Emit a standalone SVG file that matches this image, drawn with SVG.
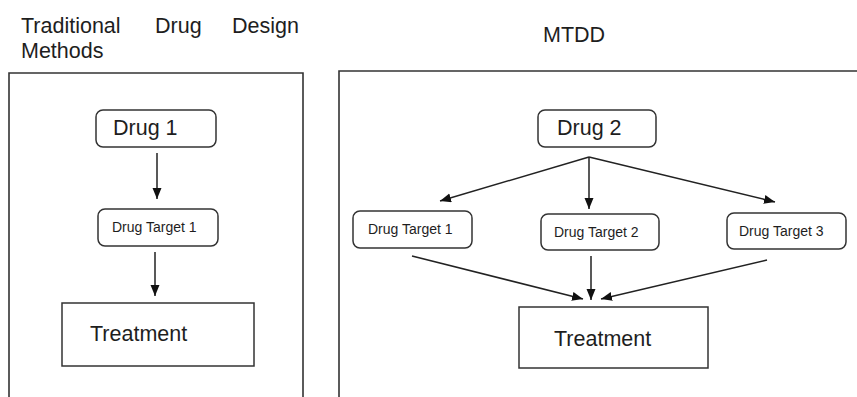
<svg xmlns="http://www.w3.org/2000/svg" width="857" height="397" viewBox="0 0 857 397">
<style>
text{font-family:"Liberation Sans",Arial,sans-serif;fill:#1e1e1e}
.big{font-size:21.5px}
.small{font-size:14px}
.frame{fill:none;stroke:#333;stroke-width:1.6}
.node{fill:#fff;stroke:#333;stroke-width:1.5}
.edge{fill:none;stroke:#222;stroke-width:1.5}
</style>
<defs>
<marker id="ah" markerUnits="userSpaceOnUse" markerWidth="12" markerHeight="10" refX="11" refY="4.5" orient="auto">
<path d="M0,0 L11,4.5 L0,9 Z" fill="#111"/>
</marker>
</defs>
<g id="title-left">
<text class="big" x="21" y="33">Traditional</text>
<text class="big" x="155" y="33">Drug</text>
<text class="big" x="232" y="33">Design</text>
<text class="big" x="21" y="58">Methods</text>
</g>
<g id="title-right"><text class="big" x="543" y="42">MTDD</text></g>
<g id="panel-left"><path class="frame" d="M9,400 V73 H303 V400"/></g>
<g id="panel-right"><path class="frame" d="M339,400 V71 H860"/></g>
<g id="drug1"><rect class="node" x="96" y="110" width="120" height="37" rx="7"/><text class="big" x="113" y="135">Drug 1</text></g>
<g id="target1-left"><rect class="node" x="98" y="209" width="120" height="37" rx="7"/><text class="small" x="112" y="232">Drug Target 1</text></g>
<g id="treatment-left"><rect class="node" x="62" y="303" width="192" height="63"/><text class="big" x="90" y="341">Treatment</text></g>
<g id="drug2"><rect class="node" x="538" y="110" width="118" height="37" rx="7"/><text class="big" x="557" y="135">Drug 2</text></g>
<g id="target1-right"><rect class="node" x="353" y="211" width="119" height="37" rx="7"/><text class="small" x="368" y="234">Drug Target 1</text></g>
<g id="target2"><rect class="node" x="541" y="214" width="118" height="36" rx="7"/><text class="small" x="554" y="237">Drug Target 2</text></g>
<g id="target3"><rect class="node" x="727" y="213" width="119" height="36" rx="7"/><text class="small" x="739" y="236">Drug Target 3</text></g>
<g id="treatment-right"><rect class="node" x="519" y="307" width="189" height="61"/><text class="big" x="554" y="346">Treatment</text></g>
<g id="connectors">
<path class="edge" d="M157,153 V199" marker-end="url(#ah)"/>
<path class="edge" d="M155,252 V296" marker-end="url(#ah)"/>
<path class="edge" d="M589,157 L440,201" marker-end="url(#ah)"/>
<path class="edge" d="M589,157 V209" marker-end="url(#ah)"/>
<path class="edge" d="M589,157 L775,202" marker-end="url(#ah)"/>
<path class="edge" d="M412,256 L583,299" marker-end="url(#ah)"/>
<path class="edge" d="M591,256 V300" marker-end="url(#ah)"/>
<path class="edge" d="M767,260 L601,299" marker-end="url(#ah)"/>
</g>
</svg>
